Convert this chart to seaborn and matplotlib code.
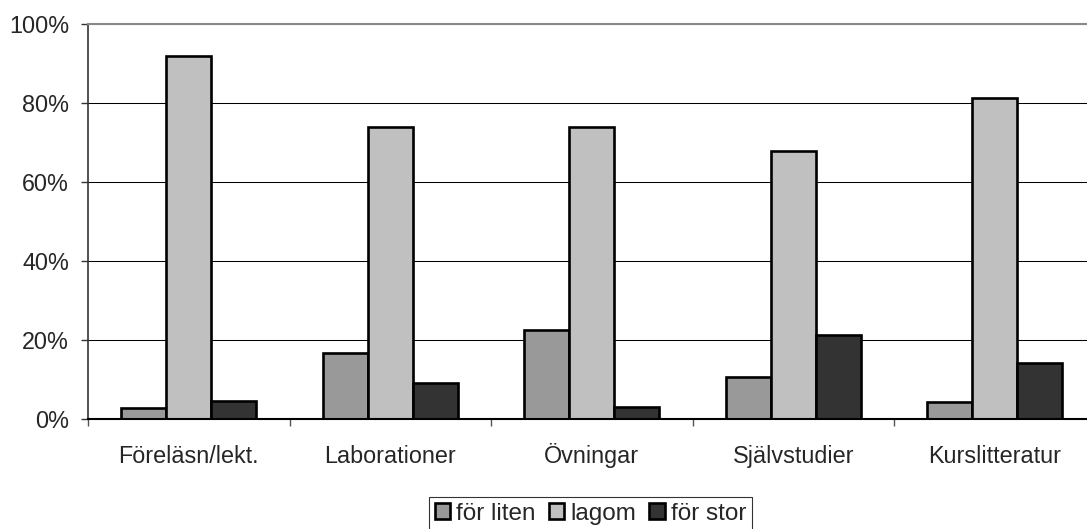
import seaborn as sns
import matplotlib.pyplot as plt
import pandas as pd
from matplotlib.patches import Patch
from matplotlib.ticker import PercentFormatter, FixedLocator

# values (percent)
categories = ['Föreläsn/lekt.', 'Laborationer', 'Övningar', 'Självstudier', 'Kurslitteratur']
for_liten = [2.9, 16.7, 22.5, 10.7, 4.4]
lagom = [92.0, 73.9, 74.0, 67.8, 81.2]
for_stor = [4.7, 9.2, 3.0, 21.2, 14.2]
series = ['för liten', 'lagom', 'för stor']
colors = ['#999999', '#c0c0c0', '#333333']

df = pd.DataFrame({
    'kategori': categories * 3,
    'andel': for_liten + lagom + for_stor,
    'serie': [s for s in series for _ in categories],
})

sns.set_style('white')
plt.rcParams['font.family'] = ['Liberation Sans', 'DejaVu Sans']

fig = plt.figure(figsize=(10.87, 5.29), dpi=100)
W, H = 1087, 529
ax = fig.add_axes([88 / W, 1 - 419.3 / H, (1095.5 - 88) / W, 395.3 / H])

sns.barplot(data=df, x='kategori', y='andel', hue='serie', order=categories,
            hue_order=series, palette=colors, width=0.67, gap=0,
            edgecolor='black', saturation=1, ax=ax, zorder=3, legend=False)
for p in ax.patches:
    p.set_linewidth(1.9)
    p.set_edgecolor('black')

ax.set_ylim(0, 100)
ax.set_xlim(-0.5, 4.5)
ax.set_yticks([0, 20, 40, 60, 80, 100])
ax.yaxis.set_major_formatter(PercentFormatter(decimals=0))
ax.yaxis.grid(True, color='black', linewidth=0.75, zorder=0)
ax.set_axisbelow(True)
ax.set_xlabel('')
ax.set_ylabel('')

for s in ['left', 'bottom']:
    ax.spines[s].set_visible(True)
ax.spines['left'].set_color('#333333')
ax.spines['left'].set_linewidth(1.2)
ax.spines['bottom'].set_color('black')
ax.spines['bottom'].set_linewidth(1.5)
ax.spines['bottom'].set_zorder(4)
ax.spines['top'].set_color('#888888')
ax.spines['top'].set_linewidth(1.5)
ax.spines['right'].set_visible(False)

ax.tick_params(axis='y', direction='out', length=5, width=1, color='#333333',
               pad=8.6, labelsize=16.8, left=True)
ax.tick_params(axis='x', which='major', length=0, pad=31.5, labelsize=16.8)
for lbl in ax.get_xticklabels():
    lbl.set_verticalalignment('baseline')
ax.xaxis.set_minor_locator(FixedLocator([-0.5, 0.5, 1.5, 2.5, 3.5, 4.5]))
ax.tick_params(axis='x', which='minor', direction='out', length=5, width=1,
               color='#555555', bottom=True)

handles = [Patch(facecolor=c, edgecolor='black', linewidth=1.9) for c in colors]
leg = fig.legend(handles, series, loc='upper left',
                 bbox_to_anchor=(429 / W, 1 - 496.7 / H), ncol=3,
                 fontsize=17.5, frameon=True, fancybox=False, shadow=False,
                 edgecolor='black', handlelength=0.62, handleheight=0.62,
                 handletextpad=0.25, columnspacing=0.55, borderpad=0.25,
                 borderaxespad=0)
leg.get_frame().set_linewidth(0.8)

fig.savefig('out.png', dpi=100)
